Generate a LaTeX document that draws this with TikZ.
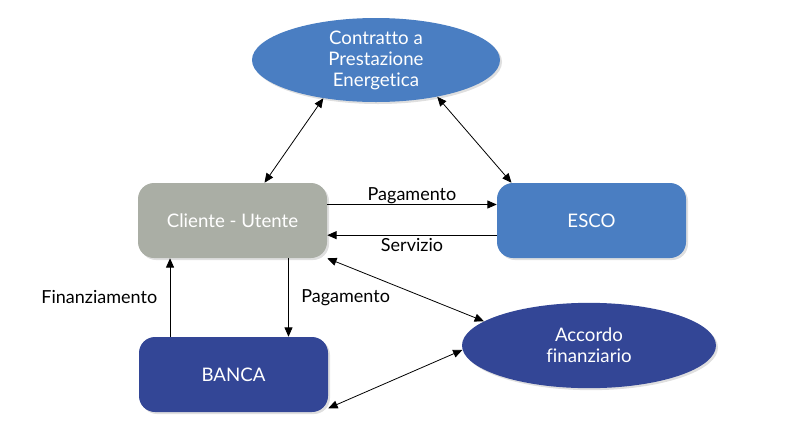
\documentclass[tikz,border=0pt]{standalone}
\usepackage{fontspec}
\setmainfont{Lato}[Ligatures={NoCommon}]
\usetikzlibrary{shapes.geometric,arrows.meta,shadows,calc}
\definecolor{escoblue}{HTML}{4A7EC2}
\definecolor{clgray}{HTML}{AAAEA5}
\definecolor{darkblue}{HTML}{334696}
\tikzset{
  box/.style={rectangle, rounded corners=12pt, minimum width=141.75pt, minimum height=56.25pt,
    text=white, font=\fontsize{14}{16}\selectfont,
    drop shadow={opacity=0.25, shadow xshift=1.5pt, shadow yshift=-1.5pt}},
  ell/.style={ellipse, text=white, font=\fontsize{14}{15.75}\selectfont, align=center, inner sep=0pt,
    drop shadow={opacity=0.25, shadow xshift=1.5pt, shadow yshift=-1.5pt}},
  conn/.style={draw=black, line width=0.6pt, -{Triangle[length=7pt,width=6pt]}},
  biconn/.style={draw=black, line width=0.6pt, {Triangle[length=7pt,width=6pt]}-{Triangle[length=7pt,width=6pt]}},
  lbl/.style={font=\fontsize{13.5}{15}\selectfont, text=black}
}
\begin{document}
\begin{tikzpicture}[x=0.75pt,y=-0.75pt]
\useasboundingbox (0,0) rectangle (785,447);
\node[ell, fill=escoblue, minimum width=186pt, minimum height=63pt] (cpe) at (376,60) {Contratto a\\Prestazione\\Energetica};
\node[box, fill=clgray] (cl) at (232.5,220.5) {Cliente - Utente};
\node[box, fill=escoblue] (esco) at (591.5,220.5) {ESCO};
\node[box, fill=darkblue] (banca) at (233.5,374.5) {BANCA};
\node[ell, fill=darkblue, minimum width=190.5pt, minimum height=64pt] (acc) at (589,345.5) {Accordo\\finanziario};

\draw[biconn] ([xshift=24pt]cl.north) -- (cpe.216);
\draw[biconn] ([xshift=-60pt]esco.north) -- (cpe.329);
\draw[conn] ([yshift=12pt]cl.east) -- node[lbl, above=-3pt] {Pagamento} ([yshift=12pt]esco.west);
\draw[conn] ([yshift=-11pt]esco.west) -- node[lbl, below=-1pt] {Servizio} ([yshift=-11pt]cl.east);
\draw[conn] ([xshift=-47.6pt]banca.north) -- node[lbl, left=6pt] {Finanziamento} ([xshift=-47.6pt]banca.north |- cl.south);
\draw[conn] ([xshift=42pt]cl.south) -- node[lbl, right=6pt] {Pagamento} ([xshift=42pt]cl.south |- banca.north);
\draw[biconn] (cl.south east) -- (acc.167);
\draw[biconn] ([yshift=3pt]banca.south east) -- (acc.182);
\end{tikzpicture}
\end{document}
